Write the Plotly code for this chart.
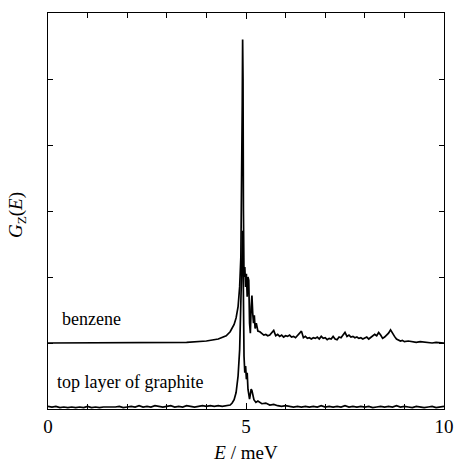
import plotly.graph_objects as go

# Benzene G_z(E) (offset by 1 unit)
benzene_E = [0, 1, 2, 3, 3.5, 4.0, 4.3, 4.5, 4.6, 4.7, 4.75, 4.8, 4.84, 4.87, 4.89,
             4.905, 4.915, 4.925, 4.935, 4.95, 4.97, 4.99, 5.01, 5.03, 5.05, 5.07,
             5.09, 5.11, 5.13, 5.15, 5.17, 5.19, 5.21, 5.23, 5.26, 5.3, 5.35,
             5.40, 5.45, 5.50, 5.55, 5.60, 5.65, 5.70, 5.75, 5.80, 5.85, 5.90, 5.95,
             6.00, 6.05, 6.10, 6.15, 6.20, 6.25, 6.30, 6.35, 6.40, 6.45, 6.50, 6.55,
             6.60, 6.65, 6.70, 6.75, 6.80, 6.85, 6.90, 6.95, 7.00, 7.05, 7.10, 7.15,
             7.20, 7.25, 7.30, 7.35, 7.40, 7.45, 7.50, 7.55, 7.60, 7.65, 7.70, 7.75,
             7.80, 7.85, 7.90, 7.95, 8.00, 8.05, 8.10, 8.15, 8.20, 8.25, 8.30, 8.35,
             8.40, 8.45, 8.50, 8.55, 8.60, 8.65, 8.70, 8.75, 8.80, 8.85, 8.90, 8.95,
             9.00, 9.1, 9.2, 9.3, 9.4, 9.5, 9.6, 9.7, 9.8, 9.9, 10.0]
benzene_G = [1.0, 1.0, 1.0, 1.005, 1.01, 1.03, 1.06, 1.11, 1.17, 1.28, 1.38, 1.55, 1.85, 2.3, 3.2,
             4.6, 5.6, 5.0, 3.0, 2.0, 2.15, 1.85, 2.05, 1.7, 2.0, 1.95,
             1.3, 1.15, 1.55, 1.72, 1.45, 1.3, 1.42, 1.22, 1.3, 1.18, 1.17,
             1.14, 1.12, 1.13, 1.11, 1.12, 1.16, 1.19, 1.11, 1.13, 1.10, 1.12, 1.09,
             1.11, 1.10, 1.12, 1.09, 1.10, 1.08, 1.11, 1.14, 1.18, 1.08, 1.10, 1.07,
             1.08, 1.06, 1.08, 1.07, 1.09, 1.06, 1.10, 1.07, 1.08, 1.05, 1.07, 1.06,
             1.10, 1.06, 1.05, 1.09, 1.08, 1.12, 1.16, 1.10, 1.12, 1.09, 1.10, 1.08,
             1.09, 1.07, 1.08, 1.06, 1.07, 1.09, 1.06, 1.08, 1.10, 1.13, 1.11, 1.16,
             1.12, 1.07, 1.09, 1.12, 1.15, 1.20, 1.14, 1.10, 1.06, 1.05, 1.03, 1.04,
             1.02, 1.03, 1.02, 1.01, 1.02, 1.01, 1.01, 1.0, 1.01, 1.0, 1.0]

# Top layer of graphite G_z(E)
graphite_E = [0.0, 0.1, 0.2, 0.3, 0.4, 0.5, 0.6, 0.7, 0.8, 0.9, 1.0, 1.1, 1.2, 1.3, 1.4,
              1.5, 1.6, 1.7, 1.8, 1.9, 2.0, 2.1, 2.2, 2.3, 2.4, 2.5, 2.6, 2.7, 2.8, 2.9,
              3.0, 3.1, 3.2, 3.3, 3.4, 3.5, 3.6, 3.7, 3.8, 3.9, 4.0, 4.1, 4.2, 4.3, 4.4,
              4.5, 4.55, 4.6, 4.65, 4.7, 4.75, 4.8, 4.84, 4.87, 4.89, 4.905, 4.915,
              4.925, 4.935, 4.95, 4.97, 4.99, 5.01, 5.03, 5.05, 5.07, 5.09, 5.11, 5.13,
              5.15, 5.17, 5.2, 5.25, 5.3,
              5.4, 5.5, 5.6, 5.7, 5.8, 5.9, 6.0, 6.1, 6.2, 6.3, 6.4, 6.5, 6.6, 6.7, 6.8,
              6.9, 7.0, 7.1, 7.2, 7.3, 7.4, 7.5, 7.6, 7.7, 7.8, 7.9, 8.0, 8.1, 8.2, 8.3,
              8.4, 8.5, 8.6, 8.7, 8.8, 8.9, 9.0, 9.1, 9.2, 9.3, 9.4, 9.5, 9.6, 9.7, 9.8,
              9.9, 10.0]
graphite_G = [0.04, 0.03, 0.04, 0.02, 0.03, 0.02, 0.03, 0.02, 0.03, 0.02, 0.04, 0.02, 0.03, 0.02, 0.03,
              0.03, 0.02, 0.03, 0.04, 0.02, 0.03, 0.04, 0.03, 0.05, 0.03, 0.04, 0.03, 0.05, 0.04, 0.03,
              0.04, 0.05, 0.03, 0.04, 0.03, 0.05, 0.04, 0.03, 0.04, 0.05, 0.04, 0.05, 0.04, 0.05, 0.04,
              0.05, 0.05, 0.06, 0.09, 0.14, 0.25, 0.5, 0.9, 1.5, 2.1, 2.5, 2.7,
              2.3, 1.4, 0.8, 0.55, 0.65, 0.45, 0.55, 0.3, 0.2, 0.15, 0.22, 0.3,
              0.28, 0.2, 0.14, 0.1, 0.12,
              0.08, 0.09, 0.06, 0.07, 0.05, 0.04, 0.05, 0.04, 0.03, 0.04, 0.03, 0.04, 0.03, 0.04, 0.03,
              0.05, 0.03, 0.04, 0.03, 0.04, 0.03, 0.05, 0.03, 0.04, 0.03, 0.04, 0.03, 0.04, 0.02, 0.03,
              0.04, 0.03, 0.04, 0.03, 0.05, 0.03, 0.04, 0.03, 0.02, 0.04, 0.03, 0.02, 0.03, 0.04, 0.02,
              0.03, 0.04]

x_tickvals = [0, 5, 10]
x_ticktext = ["0", "5", "10"]
y_tickvals = [0, 1, 2, 3, 4, 5, 6]

labels = ["benzene", "top layer of graphite"]
label_pos = [(0.33, 1.36), (0.2, 0.41)]

SERIF = "Liberation Serif"

fig = go.Figure()
fig.add_trace(go.Scatter(x=benzene_E, y=benzene_G, mode="lines",
                         line=dict(color="black", width=1.7), showlegend=False))
fig.add_trace(go.Scatter(x=graphite_E, y=graphite_G, mode="lines",
                         line=dict(color="black", width=1.7), showlegend=False))

for txt, (lx, ly) in zip(labels, label_pos):
    fig.add_annotation(x=lx, y=ly, text=txt, showarrow=False, xanchor="left",
                       yanchor="middle", borderpad=0,
                       font=dict(family=SERIF, size=18, color="black"))

# y-axis title placed as a rotated annotation
fig.add_annotation(x=-0.078, y=0.49, xref="paper", yref="paper",
                   text="<i>G</i><sub>Z</sub>(<i>E</i>)", textangle=-90,
                   showarrow=False, xanchor="center", yanchor="middle",
                   font=dict(family=SERIF, size=19, color="black"))

fig.update_layout(
    width=455, height=463,
    margin=dict(l=48, r=11, t=13, b=54),
    paper_bgcolor="white", plot_bgcolor="white",
    font=dict(family=SERIF, size=17, color="black"),
)
fig.update_xaxes(
    range=[0, 10], tickvals=x_tickvals, ticktext=x_ticktext, automargin=False,
    ticks="inside", ticklen=6, tickwidth=1, tickcolor="black",
    minor=dict(dtick=1, ticks="inside", ticklen=5, tickcolor="black", tickwidth=1),
    showline=True, linecolor="black", linewidth=1, mirror="ticks",
    showgrid=False, zeroline=False,
    title=dict(text="<i>E</i> / meV", font=dict(family=SERIF, size=19), standoff=10),
    tickfont=dict(family=SERIF, size=19),
)
fig.update_yaxes(
    range=[0, 6], tickvals=y_tickvals, showticklabels=False, automargin=False,
    ticks="inside", ticklen=5, tickwidth=1, tickcolor="black",
    showline=True, linecolor="black", linewidth=1, mirror="ticks",
    showgrid=False, zeroline=False,
)

fig.write_html("out.html", config={"displayModeBar": False},
               post_script="document.body.style.margin='0';document.body.style.overflow='hidden';")
